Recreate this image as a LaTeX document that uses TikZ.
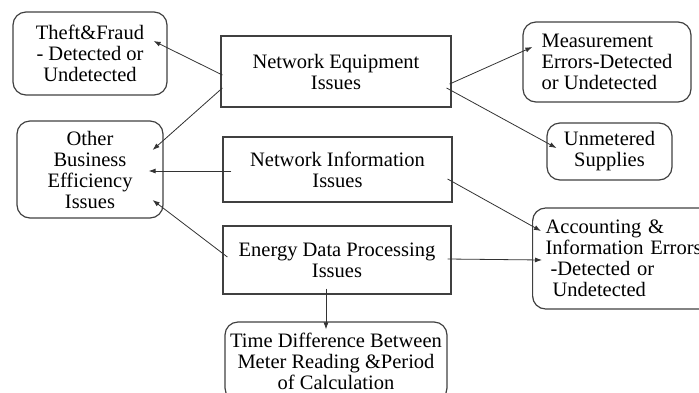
\documentclass[tikz,border=0pt]{standalone}
\usepackage{fontspec}
\setmainfont{Liberation Serif}
\usetikzlibrary{arrows.meta}

\begin{document}
\begin{tikzpicture}[x=1pt,y=-1pt,->,>={Latex[length=7pt,width=5pt]},draw=black!80,
    font=\fontsize{20.5}{21}\selectfont]
    \tikzstyle{every edge}=[draw=black!80, line width=0.8pt]
    \tikzstyle{issue box}=[draw=black!75, line width=1.2pt, inner sep=0pt, align=center]
    \tikzstyle{loss box}=[issue box, rounded corners=13pt];

    \useasboundingbox (0,0) rectangle (699,392);
    \clip (0,0) rectangle (699,392);

    % middle column: kinds of issues
    \node[issue box, minimum width=230pt, minimum height=71pt] (neteq) at (336,71.5)
        {Network Equipment\\Issues};
    \node[issue box, minimum width=229pt, minimum height=65pt] (netinfo) at (337.5,169.5)
        {Network Information\\Issues};
    \node[issue box, minimum width=228pt, minimum height=68pt] (energy) at (337,260)
        {Energy Data Processing\\Issues};

    % losses
    \node[loss box, minimum width=154pt, minimum height=83pt] (theft) at (90,53.5)
        {Theft\&Fraud\\- Detected or\\Undetected};
    \node[loss box, minimum width=146pt, minimum height=97pt] (other) at (90,169.5)
        {Other\\Business\\Efficiency\\Issues};
    \node[loss box, align=left, minimum width=168pt, minimum height=80pt] (meas) at (607,62)
        {Measurement\\Errors-Detected\\or Undetected};
    \node[loss box, minimum width=125pt, minimum height=57pt] (unmet) at (609.5,151.5)
        {Unmetered\\Supplies};
    \node[loss box, anchor=west, align=left, inner xsep=13pt, text width=170pt,
        minimum height=101pt] (acct) at (532,258.5)
        {Accounting \&\\Information Errors\\\hspace*{5pt}-Detected or\\\hspace*{7pt}Undetected};
    \node[loss box, minimum width=222pt, minimum height=79pt] (timediff) at (336,361.5)
        {Time Difference Between\\Meter Reading \&Period\\of Calculation};

    \foreach \src/\a/\dst/\b in {neteq.west/{2,3.5}/theft.east/{-14,-12.5},
                                 neteq.west/{2,16.5}/other.east/{-11,-19.5},
                                 netinfo.west/{9,1.5}/other.east/{-15,1.5},
                                 energy.west/{5,-3}/other.east/{-11,30.5},
                                 neteq.east/{-2,12.5}/meas.west/{10,-15},
                                 neteq.east/{-5,16.5}/unmet.west/{10,-3.5},
                                 netinfo.east/{-5,9.5}/acct.west/{9,-27.5},
                                 energy.east/{-4,-1}/acct.west/{10,1.5},
                                 energy.south/{-11,-6}/timediff.north/{-10,8}}
        \path ([shift={(\a)}]\src) edge ([shift={(\b)}]\dst);
\end{tikzpicture}
\end{document}
